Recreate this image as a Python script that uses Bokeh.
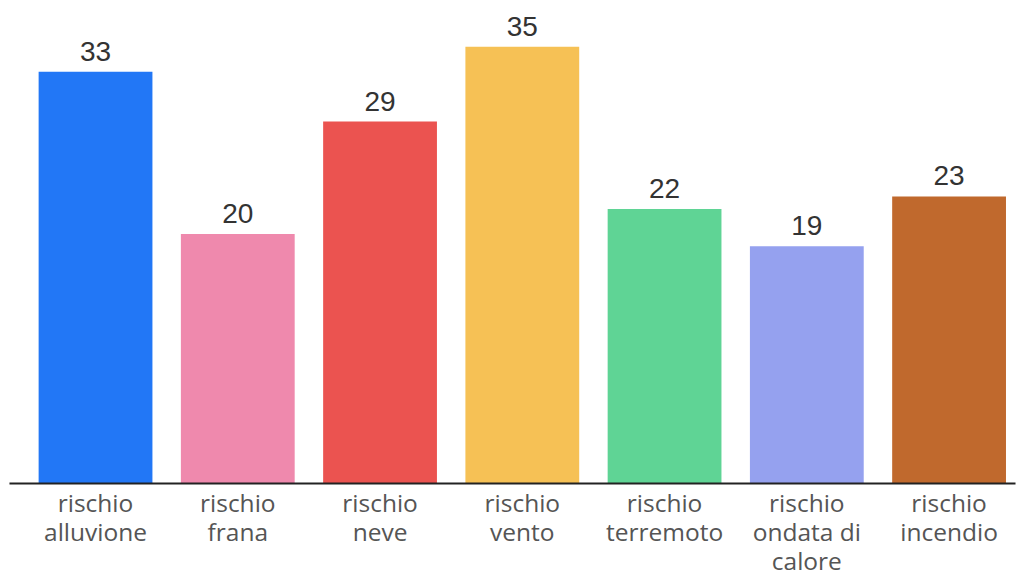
from bokeh.plotting import figure
from bokeh.models import ColumnDataSource, Range1d
from bokeh.core.properties import value
from bokeh.embed import file_html
from bokeh.resources import INLINE

categories = ["rischio\nalluvione", "rischio\nfrana", "rischio\nneve", "rischio\nvento",
              "rischio\nterremoto", "rischio\nondata di\ncalore", "rischio\nincendio"]
values = [33, 20, 29, 35, 22, 19, 23]
colors = ["#2277f6", "#ef89ad", "#eb5350", "#f6c155", "#5fd495", "#95a1ef", "#c0692d"]

xs = [i + 0.5 for i in range(len(categories))]
src = ColumnDataSource(dict(x=xs, top=values, color=colors, label=[str(v) for v in values],
                            cat=categories, zero=[0] * len(values)))

p = figure(width=1018, height=572, output_backend="svg", toolbar_location=None,
           x_range=Range1d(-0.168, 6.988), y_range=Range1d(-7.13, 38.70),
           min_border_left=0, min_border_right=0, min_border_top=0, min_border_bottom=0)
p.vbar(x="x", top="top", bottom=0, width=0.80, color="color", source=src, line_color=None)
p.segment(x0=[-0.105], y0=[0], x1=[6.967], y1=[0], line_color="#222222", line_width=2)
p.text(x="x", y="top", text="label", source=src, y_offset=-11, text_align="center",
       text_baseline="bottom", text_font=value("Liberation Sans"), text_font_size="28px",
       text_color="#333333")
p.text(x="x", y="zero", text="cat", source=src, y_offset=2, text_align="center",
       text_baseline="top", text_font=value("Open Sans"), text_font_size="24.5px",
       text_line_height=0.88, text_color="#555555")

p.xaxis.visible = False
p.yaxis.visible = False
p.xgrid.visible = False
p.ygrid.visible = False
p.outline_line_color = None

open("out.html", "w").write(file_html(p, INLINE))
